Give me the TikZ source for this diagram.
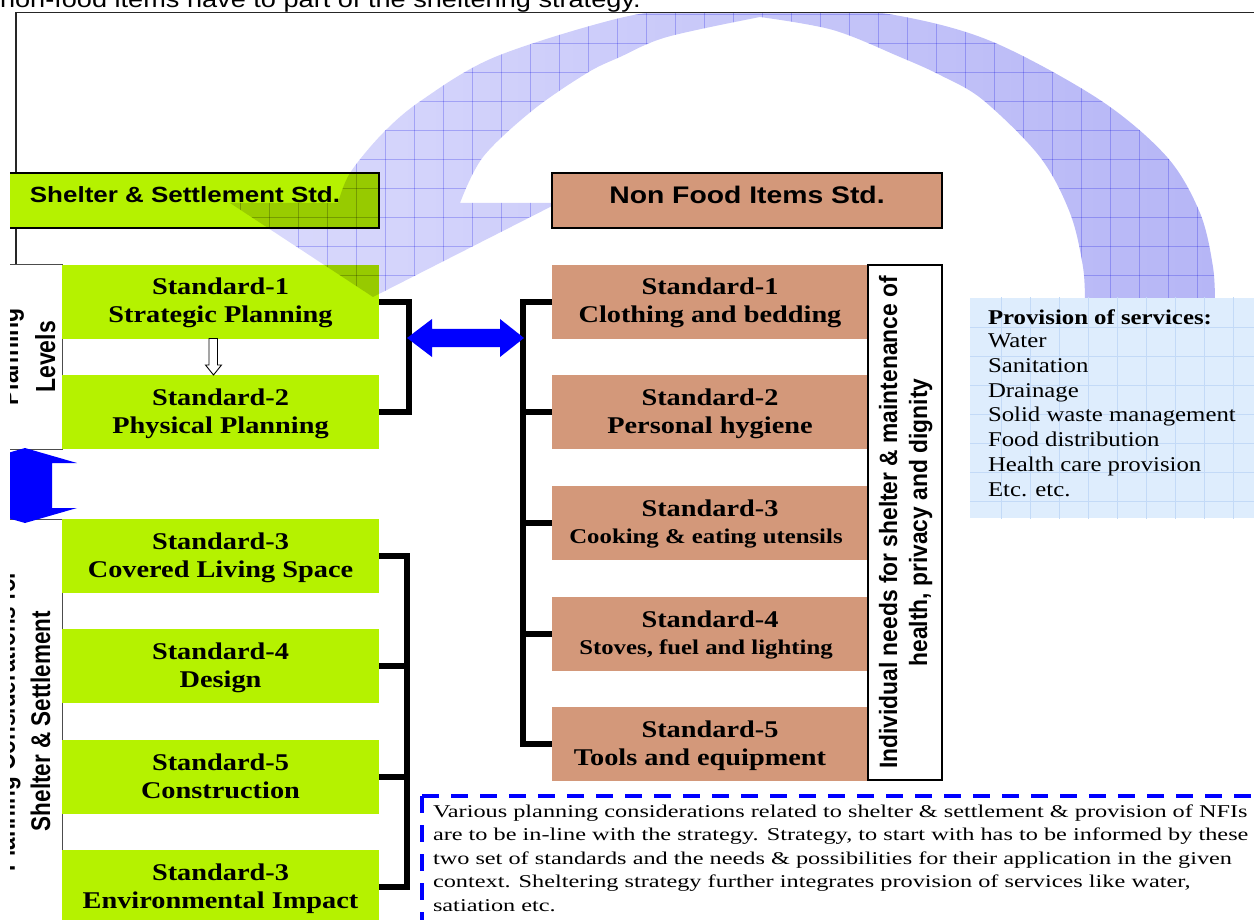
\documentclass[tikz,border=0pt]{standalone}
\usepackage{fontspec}
\usepackage{graphicx}
\newfontfamily\ssans[FakeStretch=1.18]{Liberation Sans}
\newfontfamily\sserif[FakeStretch=1.18]{Liberation Serif}
\newfontfamily\nserif[FakeStretch=1.35]{Liberation Serif}
\newfontfamily\rsans{Liberation Sans}
\definecolor{sgreen}{RGB}{181,242,0}
\definecolor{stan}{RGB}{211,152,122}
\definecolor{svcfill}{RGB}{222,237,253}
\definecolor{svcgrid}{RGB}{195,218,247}
\definecolor{arrowL}{RGB}{218,218,252}
\definecolor{arrowR}{RGB}{182,182,246}
\definecolor{agridc}{RGB}{110,110,240}
\def\bigarrow{plot[smooth,tension=0.55] coordinates {(1215,306) (1213,267) (1200,213) (1167,157) (1100,100) (993,42) (900,16) (800,6) (700,8) (620,18) (495,57) (422,100) (383,133) (350,173) (338,203)} -- (230,203) -- (373,297) -- (558,203) -- plot[smooth,tension=0.55] coordinates {(460,203) (483,157) (533,110) (587,73) (620,57) (667,37) (760,17)} -- plot[smooth,tension=0.55] coordinates {(760,17) (833,30) (900,57) (940,75) (983,100) (1040,157) (1070,213) (1083,267) (1085,306)} -- cycle}
\begin{document}
\begin{tikzpicture}[x=1pt,y=-1pt,
  every node/.style={inner sep=0pt, outer sep=0pt},
  gbox/.style={fill=sgreen, minimum width=317pt, minimum height=73.5pt, anchor=north west},
  tbox/.style={fill=stan, minimum width=316pt, minimum height=73.5pt, anchor=north west},
  stdA/.style={font=\sserif\bfseries\fontsize{24}{28}\selectfont, anchor=base},
  stdB/.style={font=\sserif\bfseries\fontsize{21}{25}\selectfont, anchor=base},
  brk/.style={line width=6pt, line join=miter},
  frameline/.style={line width=1.6pt, black!85},
  thinline/.style={line width=1pt, black!70},
  vlabel/.style={rotate=90, anchor=base, font=\rsans\bfseries\fontsize{23}{27}\selectfont},
  svctxt/.style={anchor=base west, font=\sserif\fontsize{21}{25}\selectfont},
  notetxt/.style={anchor=base west, font=\nserif\fontsize{18}{22}\selectfont},
  agrid/.style={agridc, line width=0.5pt, opacity=0.4},
  sgrid/.style={svcgrid, line width=0.6pt}]
\useasboundingbox (0,0) rectangle (1254,920);
% top text (cut off)
\node[anchor=base west, font=\ssans\fontsize{23}{27}\selectfont] (toptext) at (0,8) {non-food items have to part of the sheltering strategy.};
\begin{scope}
\clip (10,0) rectangle (1254,920);
% frame
\draw[frameline] (15,12.5) -- (1260,12.5);
\draw[frameline] (16,12.5) -- (16,265);
% left label boxes
\draw[thinline] (5,265) -- (62,265) -- (62,449) -- (5,449);
\draw[thinline] (5,519) -- (62,519) -- (62,925);
% header boxes
\node[fill=sgreen, draw=black, line width=2pt, minimum width=374pt, minimum height=55pt, anchor=north west] (ssh) at (5,173) {};
% green standard boxes
\foreach \n/\y in {g1/265, g2/375, g3/519, g4/629, g5/740, g6/850}
  \node[gbox] (\n) at (62,\y) {};
% big curved arrow
\begin{scope}[blend mode=multiply]
  \begin{scope}
    \clip (0,13.5) rectangle (1254,306);
    \shade[left color=arrowL, right color=arrowR] \bigarrow;
    \clip \bigarrow;
    \foreach \k in {0,...,10} \draw[agrid] (150,14+29*\k) -- (1260,14+29*\k);
    \foreach \k in {0,...,38} \draw[agrid] (153+29*\k,0) -- (153+29*\k,310);
  \end{scope}
\end{scope}
\node[fill=stan, draw=black, line width=2pt, minimum width=390pt, minimum height=55pt, anchor=north west] (nfi) at (552,173) {};
\node[anchor=base, font=\ssans\bfseries\fontsize{22}{26}\selectfont] at (185,203) {Shelter \& Settlement Std.};
\node[anchor=base, font=\ssans\bfseries\fontsize{24}{28}\selectfont] at (747,204) {Non Food Items Std.};
% tan standard boxes
\foreach \n/\y in {t1/265, t2/375, t3/486, t4/597, t5/707}
  \node[tbox] (\n) at (552,\y) {};
% green texts
\node[stdA] at (220.5,295) {Standard-1};
\node[stdA] at (220.5,323) {Strategic Planning};
\node[stdA] at (220.5,405) {Standard-2};
\node[stdA] at (220.5,433) {Physical Planning};
\node[stdA] at (220.5,549) {Standard-3};
\node[stdA] at (220.5,577) {Covered Living Space};
\node[stdA] at (220.5,659) {Standard-4};
\node[stdA] at (220.5,687) {Design};
\node[stdA] at (220.5,770) {Standard-5};
\node[stdA] at (220.5,798) {Construction};
\node[stdA] at (220.5,880) {Standard-3};
\node[stdA] at (220.5,908) {Environmental Impact};
% tan texts
\node[stdA] at (710,295) {Standard-1};
\node[stdA] at (710,323) {Clothing and bedding};
\node[stdA] at (710,405) {Standard-2};
\node[stdA] at (710,433) {Personal hygiene};
\node[stdA] at (710,516) {Standard-3};
\node[stdB] at (706,543) {Cooking \& eating utensils};
\node[stdA] at (710,627) {Standard-4};
\node[stdB] at (706,654) {Stoves, fuel and lighting};
\node[stdA] at (710,737) {Standard-5};
\node[stdA] at (700,765) {Tools and equipment};
% small hollow arrow S1 -> S2
\draw[fill=white, line width=0.9pt] (209,338.5) -- (209,365) -- (205.5,365) -- (213.5,375) -- (221.5,365) -- (217.5,365) -- (217.5,338.5) -- cycle;
% brackets
\draw[brk] (g1.east) -- ++(30,0) |- (g2.east);
\draw[brk] (g3.east) -- ++(28,0) |- (g6.east);
\draw[brk] (g4.east) -- ++(28,0);
\draw[brk] (g5.east) -- ++(28,0);
\draw[brk] (t1.west) -- ++(-29,0) |- (t5.west);
\foreach \n in {t2,t3,t4} \draw[brk] (\n.west) -- ++(-29,0);
% blue double arrows
\fill[blue] (407,338) -- (432,319) -- (432,329) -- (500,329) -- (500,319) -- (524,338) -- (500,357) -- (500,347) -- (432,347) -- (432,357) -- cycle;
\fill[blue] (25,448) -- (77,463) -- (52,463) -- (52,508) -- (77,508) -- (25,523) -- (-27,508) -- (-2,508) -- (-2,463) -- (-27,463) -- cycle;
% left rotated labels
\node[vlabel] at (18,357) {\scalebox{1}[1.2]{Planning}};
\node[vlabel] at (55,357) {\scalebox{1}[1.2]{Levels}};
\node[vlabel, font=\rsans\bfseries\fontsize{22.5}{27}\selectfont] at (15,721) {\scalebox{1}[1.2]{Planning Considerations for}};
\node[vlabel, font=\rsans\bfseries\fontsize{22.5}{27}\selectfont] at (50,721) {\scalebox{1}[1.2]{Shelter \& Settlement}};
% right label box
\node[draw=black, line width=1.5pt, fill=white, minimum width=74pt, minimum height=515pt, anchor=north west] (ind) at (868,265) {};
\node[vlabel, font=\rsans\bfseries\fontsize{22.8}{27}\selectfont] at (897,522.5) {\scalebox{1}[1.1]{Individual needs for shelter \& maintenance of}};
\node[vlabel, font=\rsans\bfseries\fontsize{22.8}{27}\selectfont] at (927,522.5) {\scalebox{1}[1.1]{health, privacy and dignity}};
% services box
\node[fill=svcfill, minimum width=290pt, minimum height=220pt, anchor=north west] (svc) at (970,298) {};
\begin{scope}
  \clip (970,298) rectangle (1260,518);
  \foreach \k in {0,...,10} \draw[sgrid] (1001+29*\k,290) -- (1001+29*\k,520);
  \foreach \k in {0,...,7} \draw[sgrid] (960,327+29*\k) -- (1260,327+29*\k);
\end{scope}
\node[svctxt, font=\sserif\bfseries\fontsize{21}{25}\selectfont] at (988,324) {Provision of services:};
\foreach \t [count=\i from 0] in {Water, Sanitation, Drainage, Solid waste management, Food distribution, Health care provision, Etc. etc.}
  \node[svctxt] at (988,347.5+24.75*\i) {\t};
% dashed note
\draw[blue, line width=4pt, dash pattern=on 17pt off 12pt] (422,796) -- (1260,796);
\draw[blue, line width=4pt, dash pattern=on 17pt off 12pt] (422,796) -- (422,925);
\node[notetxt] at (433,817) {Various planning considerations related to shelter \& settlement \& provision of NFIs};
\node[notetxt] at (433,840.5) {are to be in-line with the strategy. Strategy, to start with has to be informed by these};
\node[notetxt] at (433,864) {two set of standards and the needs \& possibilities for their application in the given};
\node[notetxt] at (433,887.5) {context. Sheltering strategy further integrates provision of services like water,};
\node[notetxt] at (433,911) {satiation etc.};
\end{scope}
\end{tikzpicture}
\end{document}
